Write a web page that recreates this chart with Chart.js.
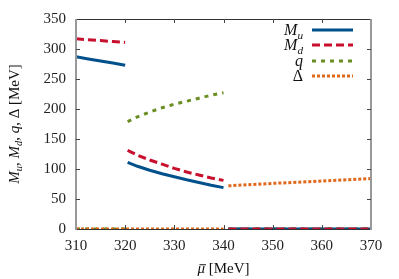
<!DOCTYPE html>
<html>
<head>
<meta charset="utf-8">
<script src="https://cdn.jsdelivr.net/npm/chart.js@4"></script>
<style>
  html, body { margin: 0; padding: 0; background: #fff; }
  #grafico { display: block; }
</style>
</head>
<body>
<canvas id="grafico" width="399" height="279"></canvas>
<script>
// ticks
const xTicks = [310, 320, 330, 340, 350, 360, 370];
const yTicks = [0, 50, 100, 150, 200, 250, 300, 350];

// three branches in mu-bar [MeV]
const xA = [310, 312.5, 315, 317.5, 320];
const xB = [320.5, 322.5, 325, 327.5, 330, 332.5, 335, 337.5, 340];
const xC = [341, 350, 360, 370];

const muA = [287, 283.5, 280, 276.5, 273];
const mdA = [317, 315.5, 314, 312.5, 311];
const qA  = [0, 0, 0, 0, 0];
const dA  = [0, 0, 0, 0, 0];

const muB = [111, 104.5, 98, 92, 87, 82, 77.5, 73, 69];
const mdB = [131, 123, 115, 108, 101, 95, 90, 85, 81];
const qB  = [179, 187, 195, 202, 208, 213, 218, 223, 227];
const dB  = [0, 0, 0, 0, 0, 0, 0, 0, 0];

const muC = [0, 0, 0, 0];
const mdC = [0, 0, 0, 0];
const qC  = [0, 0, 0, 0];
const dC  = [72, 76, 80, 84];

const cores = { mu: "#00508c", md: "#c8102e", q: "#6b8e23", d: "#e0681a" };
const fonte = "Liberation Serif, DejaVu Serif, serif";

function pontos(xs, ys) { return xs.map((x, i) => ({ x: x, y: ys[i] })); }
function juntar(...partes) {
    const out = [];
    partes.forEach((p, i) => {
        if (i > 0 && p.gap) out.push({ x: NaN, y: null });
        out.push(...p.pts);
    });
    return out;
}

const series = [
    { nome: "mu", cor: cores.mu, dash: [], largura: 3,
      dados: juntar({ pts: pontos(xA, muA) }, { pts: pontos(xB, muB), gap: true }, { pts: pontos(xC, muC), gap: true }) },
    { nome: "md", cor: cores.md, dash: [8, 4], largura: 3,
      dados: juntar({ pts: pontos(xA, mdA) }, { pts: pontos(xB, mdB), gap: true }, { pts: pontos(xC, mdC), gap: true }) },
    { nome: "q", cor: cores.q, dash: [4, 5], largura: 3,
      dados: juntar({ pts: pontos(xA, qA) }, { pts: pontos(xB, qB), gap: true }, { pts: pontos(xC, qC), gap: true }) },
    { nome: "d", cor: cores.d, dash: [3, 2], largura: 3,
      dados: juntar({ pts: pontos(xA, dA) }, { pts: pontos(xB, dB) }, { pts: pontos(xC, dC), gap: true }) }
];

// rich text: runs of {t, it, sub}
function medirRuns(ctx, runs, tam) {
    let w = 0;
    runs.forEach(r => {
        const s = r.sub ? tam * 0.7 : tam;
        ctx.font = (r.it ? "italic " : "") + s + "px " + fonte;
        w += ctx.measureText(r.t).width;
    });
    return w;
}
function desenharRuns(ctx, runs, x, y, tam, alinhar) {
    const w = medirRuns(ctx, runs, tam);
    let cx = alinhar === "right" ? x - w : alinhar === "center" ? x - w / 2 : x;
    ctx.textBaseline = "alphabetic";
    ctx.textAlign = "left";
    ctx.fillStyle = "#111";
    runs.forEach(r => {
        const s = r.sub ? tam * 0.7 : tam;
        ctx.font = (r.it ? "italic " : "") + s + "px " + fonte;
        ctx.fillText(r.t, cx, y + (r.sub ? tam * 0.22 : 0));
        if (r.barra) {
            const rw = ctx.measureText(r.t).width;
            ctx.save();
            ctx.strokeStyle = "#111";
            ctx.lineWidth = 1;
            ctx.beginPath();
            ctx.moveTo(cx + 2, y - tam * 0.55);
            ctx.lineTo(cx + rw + 1, y - tam * 0.55);
            ctx.stroke();
            ctx.restore();
        }
        cx += ctx.measureText(r.t).width;
    });
}

const molduraPlugin = {
    id: "moldura",
    afterDraw(chart) {
        const ctx = chart.ctx;
        const a = chart.chartArea;
        const sx = chart.scales.x, sy = chart.scales.y;
        ctx.save();
        // frame
        ctx.lineWidth = 1;
        ctx.strokeStyle = "#333";
        ctx.beginPath();
        ctx.moveTo(a.left, a.top + 0.5); ctx.lineTo(a.right, a.top + 0.5);
        ctx.moveTo(a.left, a.bottom + 0.5); ctx.lineTo(a.right, a.bottom + 0.5);
        ctx.stroke();
        ctx.lineWidth = 2;
        ctx.strokeStyle = "#999";
        ctx.beginPath();
        ctx.moveTo(a.left, a.top); ctx.lineTo(a.left, a.bottom + 1);
        ctx.moveTo(a.right, a.top); ctx.lineTo(a.right, a.bottom + 1);
        ctx.stroke();
        // inward ticks
        ctx.lineWidth = 1;
        ctx.strokeStyle = "#444";
        ctx.beginPath();
        xTicks.slice(1, -1).forEach(v => {
            const px = Math.round(sx.getPixelForValue(v)) + 0.5;
            ctx.moveTo(px, a.top); ctx.lineTo(px, a.top + 4);
            ctx.moveTo(px, a.bottom); ctx.lineTo(px, a.bottom - 4);
        });
        yTicks.slice(1, -1).forEach(v => {
            const py = Math.round(sy.getPixelForValue(v)) + 0.5;
            ctx.moveTo(a.left, py); ctx.lineTo(a.left + 4, py);
            ctx.moveTo(a.right, py); ctx.lineTo(a.right - 4, py);
        });
        ctx.stroke();

        // axis titles
        const tam = 15;
        desenharRuns(ctx, [{ t: "μ", it: true, barra: true }, { t: " [MeV]" }],
            (a.left + a.right) / 2, 273, tam, "center");
        ctx.save();
        ctx.translate(19, (a.top + a.bottom) / 2);
        ctx.rotate(-Math.PI / 2);
        desenharRuns(ctx, [
            { t: "M", it: true }, { t: "u", it: true, sub: true }, { t: ", " },
            { t: "M", it: true }, { t: "d", it: true, sub: true }, { t: ", " },
            { t: "q", it: true }, { t: ", Δ [MeV]" }
        ], 0, 0, tam, "center");
        ctx.restore();

        // legend
        const linhas = [
            { runs: [{ t: "M", it: true }, { t: "u", it: true, sub: true }], s: series[0] },
            { runs: [{ t: "M", it: true }, { t: "d", it: true, sub: true }], s: series[1] },
            { runs: [{ t: "q", it: true }], s: series[2] },
            { runs: [{ t: "Δ" }], s: series[3] }
        ];
        const ys = [30, 45, 61, 76];
        linhas.forEach((l, i) => {
            desenharRuns(ctx, l.runs, 303, ys[i] + 5, 16, "right");
            ctx.strokeStyle = l.s.cor;
            ctx.lineWidth = l.s.largura;
            ctx.setLineDash(l.s.dash);
            ctx.beginPath();
            ctx.moveTo(312, ys[i]);
            ctx.lineTo(353, ys[i]);
            ctx.stroke();
        });
        ctx.setLineDash([]);
        ctx.restore();
    }
};

new Chart(document.getElementById("grafico"), {
    type: "line",
    data: {
        datasets: series.map((s, i) => ({
            label: s.nome,
            data: s.dados,
            borderColor: s.cor,
            borderWidth: s.largura,
            borderDash: s.dash,
            pointRadius: 0,
            fill: false,
            spanGaps: false,
            tension: 0,
            order: [2, 1, 4, 3][i]
        }))
    },
    options: {
        responsive: false,
        animation: false,
        devicePixelRatio: 1,
        layout: { padding: { top: 18, right: 28, left: 0, bottom: 0 } },
        plugins: { legend: { display: false }, tooltip: { enabled: false } },
        scales: {
            x: {
                type: "linear",
                min: 310, max: 370,
                afterBuildTicks: s => { s.ticks = xTicks.map(v => ({ value: v })); },
                afterFit: s => { s.height = 50; },
                grid: { display: false, drawTicks: false },
                border: { display: false },
                ticks: { padding: 8, color: "#222", font: { family: fonte, size: 15 } }
            },
            y: {
                min: 0, max: 350,
                afterBuildTicks: s => { s.ticks = yTicks.map(v => ({ value: v })); },
                afterFit: s => { s.width = 76; },
                grid: { display: false, drawTicks: false },
                border: { display: false },
                ticks: { padding: 10, color: "#222", font: { family: fonte, size: 15 } }
            }
        }
    },
    plugins: [molduraPlugin]
});
</script>
</body>
</html>
